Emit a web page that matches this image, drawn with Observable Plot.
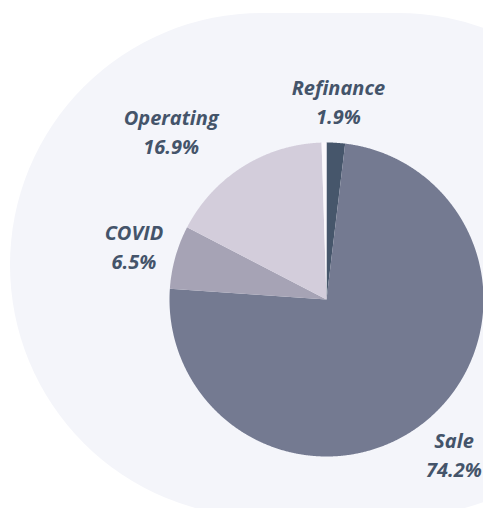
<!DOCTYPE html>
<html>
<head>
<meta charset="utf-8">
<script src="https://cdn.jsdelivr.net/npm/d3@7"></script>
<script src="https://cdn.jsdelivr.net/npm/@observablehq/plot@0.6"></script>
<style>
  html, body { margin: 0; padding: 0; background: #ffffff; }
  #wrap { position: relative; width: 483px; height: 508px; overflow: hidden; background: #ffffff; }
  #bg { position: absolute; left: 10px; top: 13px; width: 640px; height: 504px; border-radius: 252px; background: #f4f5fa; }
  #chart { position: absolute; left: 0; top: 0; }
</style>
</head>
<body>
<div id="wrap"><div id="bg"></div><div id="chart"></div></div>
<script>
const categories = ["Refinance", "Sale", "COVID", "Operating", "Other"];
const values = [1.9, 74.2, 6.5, 16.9, 0.5];
const showLabel = [true, true, true, true, false];
const colors = ["#46566b", "#747a91", "#a6a3b5", "#d3cddb", "#fbf8fc"];

const labelColor = "#44546a";
const labelRadius = 1.274;
const labelShiftX = {Operating: -0.31};

const arcs = d3.pie().sort(null).value(d => d.value)(
  categories.map((c, i) => ({cat: c, value: values[i]}))
);

const pts = [];
for (const a of arcs) {
  const cat = a.data.cat;
  pts.push({cat, x: 0, y: 0});
  const n = Math.max(2, Math.ceil((a.endAngle - a.startAngle) / 0.005));
  for (let k = 0; k <= n; k++) {
    const t = a.startAngle + (a.endAngle - a.startAngle) * k / n;
    pts.push({cat, x: Math.sin(t), y: Math.cos(t)});
  }
  pts.push({cat, x: 0, y: 0});
}

const labels = arcs
  .filter((a, i) => showLabel[i])
  .map(a => {
    const m = (a.startAngle + a.endAngle) / 2;
    return {
      cat: a.data.cat,
      x: labelRadius * Math.sin(m) + (labelShiftX[a.data.cat] || 0),
      y: labelRadius * Math.cos(m),
      text: `${a.data.cat}\n${a.data.value.toFixed(1)}%`
    };
  });

const chart = Plot.plot({
  width: 483,
  height: 508,
  marginLeft: 169,
  marginRight: 0,
  marginTop: 142,
  marginBottom: 52,
  style: {background: "transparent", overflow: "visible"},
  x: {domain: [-1, 1], axis: null},
  y: {domain: [-1, 1], axis: null},
  color: {domain: categories, range: colors},
  marks: [
    Plot.line(pts, {x: "x", y: "y", z: "cat", fill: "cat", stroke: "none", curve: "linear"}),
    Plot.text(labels, {
      x: "x", y: "y", text: "text",
      fill: labelColor,
      fontSize: 20,
      fontWeight: "bold",
      fontStyle: "italic",
      fontFamily: "'Open Sans', sans-serif",
      lineHeight: 1.45,
      textAnchor: "middle"
    })
  ]
});
document.getElementById("chart").appendChild(chart);
</script>
</body>
</html>
